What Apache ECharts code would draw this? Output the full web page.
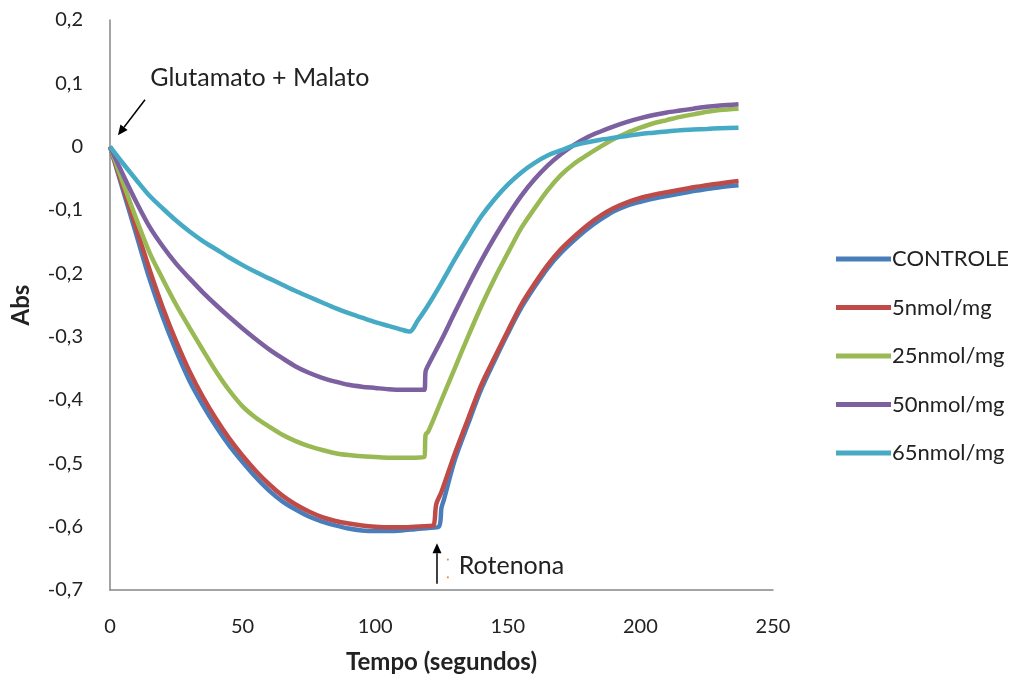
<!DOCTYPE html>
<html><head><meta charset="utf-8">
<script src="https://cdn.jsdelivr.net/npm/echarts@6/dist/echarts.min.js"></script>
<style>html,body{margin:0;padding:0;background:#fff}#c{width:1024px;height:677px}</style>
</head><body><div id="c"></div>
<script>
const seriesNames = ['CONTROLE','5nmol/mg','25nmol/mg','50nmol/mg','65nmol/mg'];
const seriesColors = ['#4A7EBB','#BE4B48','#98B954','#7D60A0','#46AAC5'];
const xTicks = [0,50,100,150,200,250];
const yTicks = [-0.7,-0.6,-0.5,-0.4,-0.3,-0.2,-0.1,0,0.1,0.2];

const controle = [[0,0],[5,-0.07],[10,-0.14],[15,-0.21],[20,-0.27],[25,-0.323],[30,-0.37],[35,-0.408],[40,-0.442],[45,-0.472],[50,-0.498],[55,-0.522],[60,-0.543],[65,-0.56],[70,-0.573],[75,-0.584],[80,-0.592],[85,-0.598],[90,-0.603],[95,-0.606],[100,-0.607],[105,-0.607],[110,-0.606],[115,-0.604],[120,-0.602],[124,-0.6],[125,-0.57],[126,-0.556],[130,-0.495],[135,-0.438],[140,-0.383],[145,-0.338],[150,-0.295],[155,-0.255],[160,-0.222],[165,-0.192],[170,-0.168],[175,-0.148],[180,-0.13],[185,-0.115],[190,-0.102],[195,-0.093],[200,-0.087],[205,-0.082],[210,-0.078],[215,-0.074],[220,-0.07],[225,-0.067],[230,-0.064],[237,-0.061]];
const nmol5 = [[0,0],[5,-0.065],[10,-0.13],[15,-0.195],[20,-0.255],[25,-0.308],[30,-0.355],[35,-0.395],[40,-0.43],[45,-0.461],[50,-0.488],[55,-0.512],[60,-0.533],[65,-0.551],[70,-0.565],[75,-0.576],[80,-0.585],[85,-0.591],[90,-0.595],[95,-0.598],[100,-0.6],[105,-0.601],[110,-0.601],[115,-0.6],[120,-0.599],[122,-0.598],[123,-0.565],[125,-0.545],[130,-0.485],[135,-0.43],[140,-0.376],[145,-0.333],[150,-0.291],[155,-0.25],[160,-0.217],[165,-0.187],[170,-0.162],[175,-0.142],[180,-0.124],[185,-0.109],[190,-0.097],[195,-0.088],[200,-0.081],[205,-0.076],[210,-0.072],[215,-0.068],[220,-0.064],[225,-0.061],[230,-0.058],[237,-0.054]];
const nmol25 = [[0,0],[5,-0.058],[10,-0.115],[15,-0.168],[20,-0.21],[25,-0.25],[30,-0.286],[35,-0.321],[40,-0.355],[45,-0.385],[50,-0.41],[55,-0.428],[60,-0.442],[65,-0.455],[70,-0.465],[75,-0.473],[80,-0.479],[85,-0.484],[90,-0.487],[95,-0.489],[100,-0.49],[105,-0.491],[110,-0.491],[115,-0.491],[118.5,-0.49],[119,-0.455],[120,-0.45],[125,-0.4],[130,-0.35],[135,-0.3],[140,-0.252],[145,-0.208],[150,-0.168],[155,-0.129],[160,-0.098],[165,-0.069],[170,-0.045],[175,-0.027],[180,-0.013],[185,0.0],[190,0.012],[195,0.022],[200,0.03],[205,0.037],[210,0.042],[215,0.047],[220,0.051],[225,0.055],[230,0.058],[237,0.06]];
const nmol50 = [[0,0],[5,-0.045],[10,-0.088],[15,-0.127],[20,-0.158],[25,-0.185],[30,-0.208],[35,-0.23],[40,-0.25],[45,-0.269],[50,-0.287],[55,-0.304],[60,-0.32],[65,-0.334],[70,-0.347],[75,-0.357],[80,-0.365],[85,-0.371],[90,-0.376],[95,-0.379],[100,-0.381],[105,-0.383],[110,-0.384],[115,-0.384],[118.5,-0.384],[119,-0.355],[120,-0.345],[125,-0.305],[130,-0.262],[135,-0.22],[140,-0.18],[145,-0.143],[150,-0.109],[155,-0.078],[160,-0.052],[165,-0.03],[170,-0.012],[175,0.003],[180,0.015],[185,0.024],[190,0.032],[195,0.039],[200,0.045],[205,0.05],[210,0.054],[215,0.057],[220,0.06],[225,0.063],[230,0.065],[237,0.067]];
const nmol65 = [[0,0],[5,-0.027],[10,-0.053],[15,-0.078],[20,-0.098],[25,-0.117],[30,-0.134],[35,-0.149],[40,-0.162],[45,-0.175],[50,-0.187],[55,-0.198],[60,-0.208],[65,-0.218],[70,-0.228],[75,-0.237],[80,-0.246],[85,-0.255],[90,-0.263],[95,-0.27],[100,-0.277],[105,-0.283],[110,-0.289],[113,-0.292],[116,-0.275],[120,-0.25],[125,-0.215],[130,-0.178],[135,-0.143],[140,-0.11],[145,-0.083],[150,-0.06],[155,-0.041],[160,-0.026],[165,-0.014],[170,-0.006],[175,0.002],[180,0.007],[185,0.011],[190,0.014],[195,0.017],[200,0.02],[205,0.022],[210,0.024],[215,0.026],[220,0.027],[225,0.028],[230,0.029],[237,0.03]];
const allData = [controle, nmol5, nmol25, nmol50, nmol65];

// annotations in data units
const annoGlutText = {text:'Glutamato + Malato', at:[15.2, 0.108]};
const annoGlutArrow = {from:[13.2, 0.074], to:[3.0, 0.018]};
const annoRotText = {text:'Rotenona', at:[131.5, -0.662]};
const annoRotDots = [[127.4, -0.652], [127.4, -0.68]];
const annoRotArrow = {from:[123.3, -0.69], to:[123.3, -0.626]};

const FONT = 'Lato';
const chart = echarts.init(document.getElementById('c'), null, {renderer:'canvas'});
const fmt = v => { const r = Math.round(v*10)/10; return r === 0 ? '0' : r.toFixed(1).replace('.', ','); };

chart.setOption({
  animation:false,
  backgroundColor:'#fff',
  grid:{left:110, top:20, width:663, height:570, containLabel:false, outerBoundsMode:'none'},
  xAxis:{type:'value', min:0, max:250, interval:50,
    name:'Tempo (segundos)', nameLocation:'middle', nameGap:60,
    nameTextStyle:{fontFamily:FONT, fontWeight:'bold', fontSize:24, color:'#222'},
    axisLine:{onZero:false, lineStyle:{color:'#868686', width:1.5}}, axisTick:{show:false}, splitLine:{show:false},
    axisLabel:{fontFamily:FONT, fontSize:20, color:'#222', margin:27}},
  yAxis:{type:'value', min:-0.7, max:0.2, interval:0.1,
    name:'Abs', nameLocation:'middle', nameGap:77, nameRotate:90,
    nameTextStyle:{fontFamily:FONT, fontWeight:'bold', fontSize:24, color:'#222'},
    axisLine:{show:true, onZero:false, lineStyle:{color:'#868686', width:1.5}}, axisTick:{show:false}, splitLine:{show:false},
    axisLabel:{fontFamily:FONT, fontSize:20, color:'#222', margin:27, formatter:fmt}},
  legend:{orient:'vertical', left:831, top:243, itemWidth:55, itemHeight:5, itemGap:26.5,
    icon:'rect',
    textStyle:{fontFamily:FONT, fontSize:22, color:'#222', lineHeight:22, padding:[0,0,0,-4]},
    data:seriesNames},
  series: seriesNames.map((n,i)=>({
    name:n, type:'line', data:allData[i], showSymbol:false, symbol:'none', smooth:0.3,
    lineStyle:{color:seriesColors[i], width:4.5}, itemStyle:{color:seriesColors[i]}, z:2+i
  }))
});

function px(p){ return chart.convertToPixel({gridIndex:0}, p); }
function arrow(a){
  const f = px(a.from), t = px(a.to);
  const ang = Math.atan2(t[1]-f[1], t[0]-f[0]);
  const L = 10, W = 4.5;
  const bx = t[0]-L*Math.cos(ang), by = t[1]-L*Math.sin(ang);
  const nx = -Math.sin(ang), ny = Math.cos(ang);
  return [
    {type:'line', shape:{x1:f[0], y1:f[1], x2:bx, y2:by}, style:{stroke:'#000', lineWidth:1.5}},
    {type:'polygon', shape:{points:[[t[0],t[1]],[bx+nx*W,by+ny*W],[bx-nx*W,by-ny*W]]}, style:{fill:'#000'}}
  ];
}
const g1 = px(annoGlutText.at), g2 = px(annoRotText.at);
chart.setOption({graphic:[
  ...arrow(annoGlutArrow), ...arrow(annoRotArrow),
  {type:'text', x:g1[0], y:g1[1], style:{text:annoGlutText.text, fontFamily:FONT, fontSize:25, fill:'#222', verticalAlign:'middle'}},
  {type:'text', x:g2[0], y:g2[1], style:{text:annoRotText.text, fontFamily:FONT, fontSize:25, fill:'#222', verticalAlign:'middle'}},
  ...annoRotDots.map(d => { const p = px(d); return {type:'circle', shape:{cx:p[0], cy:p[1], r:1.1}, style:{fill:'#E8914A'}}; })
]});
</script></body></html>
